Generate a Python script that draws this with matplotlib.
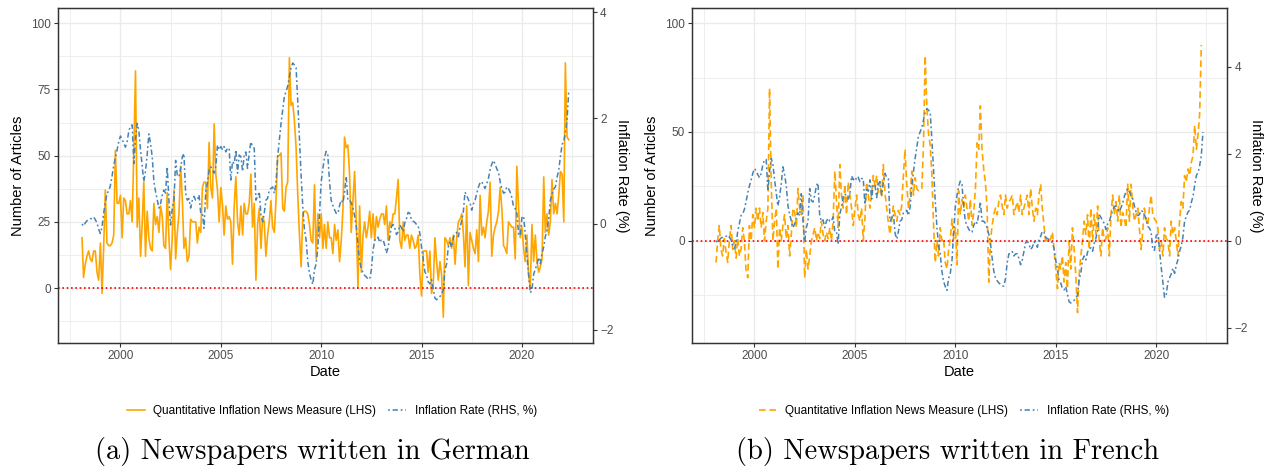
import numpy as np
import pandas as pd
import matplotlib
matplotlib.use("Agg")
import matplotlib.pyplot as plt
from matplotlib.lines import Line2D

plt.rcParams["font.family"] = ["Liberation Sans", "DejaVu Sans"]

# monthly series, Feb 1998 onwards
german_news = [
    19, 4, 9, 12, 14, 11, 10, 14, 14, 6,
    3, 17, -2, 15, 37, 17, 16, 16, 17, 20,
    52, 32, 32, 35, 19, 34, 33, 28, 28, 33,
    25, 52, 82, 23, 34, 12, 25, 40, 12, 29,
    19, 15, 14, 32, 24, 27, 21, 31, 27, 16,
    15, 36, 19, 7, 19, 37, 11, 21, 28, 46,
    33, 15, 19, 10, 12, 26, 25, 25, 25, 17,
    23, 21, 38, 40, 40, 30, 55, 38, 34, 62,
    43, 37, 25, 38, 31, 20, 31, 26, 27, 25,
    9, 31, 42, 25, 20, 31, 20, 32, 28, 28,
    32, 43, 23, 32, 3, 24, 30, 15, 27, 25,
    12, 20, 25, 33, 23, 21, 33, 50, 50, 51,
    30, 29, 38, 40, 87, 69, 70, 63, 53, 35,
    20, 8, 28, 29, 29, 28, 24, 18, 17, 39,
    11, 28, 19, 28, 15, 24, 15, 25, 19, 19,
    13, 24, 18, 22, 10, 18, 30, 57, 53, 54,
    43, 21, 33, 44, 25, 0, 31, 6, 20, 25,
    19, 23, 29, 19, 28, 18, 27, 23, 26, 28,
    28, 24, 31, 18, 25, 23, 28, 28, 34, 41,
    18, 15, 25, 18, 20, 20, 15, 20, 18, 15,
    16, 20, 5, -3, 14, 14, 14, 6, 14, -2,
    1, 19, 10, 3, 10, 5, -11, 19, 18, 16,
    19, 15, 20, 9, 19, 25, 26, 28, 20, 8,
    31, 1, 21, 18, 15, 13, 22, 10, 35, 20,
    23, 19, 25, 29, 40, 12, 20, 23, 25, 29,
    38, 30, 16, 15, 13, 25, 24, 23, 23, 11,
    46, 30, 19, 23, 15, 10, 20, 5, 0, 24,
    10, 20, 10, 6, 8, 11, 42, 21, 28, 20,
    25, 41, 28, 32, 28, 35, 44, 43, 25, 85,
    57, 56,
]

french_news = [
    -10, 0, 7, -4, -7, 1, -5, -10, 0, 7,
    -4, 0, -8, 1, -7, -4, 6, 0, -14, -17,
    7, 0, 12, 6, 15, 9, 15, 6, 13, 0,
    9, 15, 70, 26, 0, 9, 15, -13, 6, 0,
    7, 12, 1, 7, -7, 3, 15, 13, 6, 24,
    15, 12, 21, -17, -4, -13, -7, 0, 3, 6,
    0, 4, 1, 9, 3, 0, 4, 1, 6, 0,
    9, 32, 18, 6, 35, 21, 15, 26, 12, 27,
    21, 15, 7, 15, 21, 12, 9, 15, 0, 10,
    27, 21, 15, 22, 30, 25, 30, 22, 27, 20,
    35, 22, 15, 8, 3, 10, 16, 12, 9, 14,
    12, 16, 30, 42, 26, 15, 21, 32, 21, 29,
    24, 23, 23, 24, 45, 85, 61, 49, 44, 30,
    7, -10, 0, -7, 6, 0, 1, -10, -13, -4,
    1, 10, 1, 6, -11, 23, 12, 19, 15, 21,
    15, 9, 19, 7, 13, 24, 45, 42, 62, 42,
    33, 27, 15, -19, 0, 7, 12, 15, 12, 18,
    21, 16, 12, 21, 15, 18, 19, 21, 12, 15,
    18, 13, 21, 12, 15, 18, 21, 12, 24, 15,
    9, 15, 12, 21, 26, 15, 7, 0, 1, 0,
    1, 4, -4, -13, -22, -10, -13, -7, -19, -10,
    -22, 0, -13, 6, -4, -16, -33, -16, -7, 0,
    9, 3, 12, -4, 15, 0, 12, 3, 16, 0,
    -7, 6, 0, 1, 6, -7, 12, 21, 12, 18,
    9, 21, 6, 13, 10, 6, 26, 9, 26, 16,
    9, 12, 15, 6, -4, 4, 15, 10, 7, 15,
    21, 12, 10, 9, 6, -4, 0, -7, 6, 1,
    0, -7, 9, 3, 6, 0, -7, 9, 18, 15,
    30, 27, 33, 30, 36, 39, 53, 42, 49, 58,
    90,
]

inflation = [
    0.0, -0.04, 0.02, 0.06, 0.08, 0.1, 0.1, 0.13, 0.08, 0.02,
    -0.1, -0.18, -0.05, 0.2, 0.39, 0.58, 0.62, 0.72, 0.9, 1.1,
    1.26, 1.4, 1.55, 1.66, 1.6, 1.52, 1.45, 1.55, 1.75, 1.85,
    1.87, 1.14, 1.6, 1.9, 1.75, 1.4, 1.08, 0.8, 1.0, 1.3,
    1.7, 1.52, 1.27, 0.8, 0.61, 0.45, 0.3, 0.39, 0.55, 0.64,
    0.58, 1.08, 0.45, -0.02, 0.3, 0.45, 1.2, 0.92, 0.89, 1.05,
    1.27, 1.33, 0.58, 0.45, 0.48, 0.3, 0.45, 0.52, 0.45, 0.45,
    0.55, 0.2, 0.2, -0.08, 0.61, 0.77, 1.02, 1.08, 1.02, 0.96,
    1.08, 1.49, 1.4, 1.46, 1.4, 1.46, 1.36, 1.43, 1.43, 0.83,
    1.18, 1.14, 1.4, 0.96, 1.3, 1.27, 0.99, 1.3, 1.36, 1.05,
    1.33, 1.55, 1.46, 1.43, 0.45, 0.52, 0.61, 0.17, 0.04, 0.2,
    0.45, 0.48, 0.64, 0.67, 0.7, 0.58, 0.77, 1.27, 1.58, 1.9,
    2.15, 2.4, 2.5, 2.6, 2.78, 2.95, 3.04, 3.0, 2.95, 2.3,
    1.6, 0.9, 0.3, -0.1, -0.3, -0.7, -0.93, -1.05, -1.14, -0.86,
    -0.75, -0.45, 0.2, 0.8, 1.05, 1.25, 1.37, 1.3, 0.8, 0.45,
    0.35, 0.27, 0.2, 0.2, 0.35, 0.45, 0.4, 0.6, 0.9, 0.45,
    0.45, 0.4, 0.3, 0.15, -0.05, -0.4, -0.7, -0.85, -0.92, -0.97,
    -1.0, -1.04, -1.04, -0.87, -0.5, -0.3, -0.3, -0.25, -0.35, -0.3,
    -0.3, -0.4, -0.55, -0.45, -0.25, -0.05, -0.01, -0.08, -0.2, -0.15,
    -0.02, -0.07, -0.15, 0.02, 0.1, 0.22, 0.2, 0.08, 0.05, 0.03,
    -0.01, -0.04, -0.18, -0.45, -0.67, -0.9, -0.97, -1.09, -1.13, -1.05,
    -1.22, -1.4, -1.43, -1.4, -1.37, -1.32, -1.25, -0.88, -0.75, -0.44,
    -0.35, -0.44, -0.26, -0.19, -0.16, -0.24, -0.06, 0.06, 0.25, 0.6,
    0.54, 0.46, 0.4, 0.26, 0.38, 0.45, 0.57, 0.7, 0.78, 0.8,
    0.72, 0.67, 0.76, 0.86, 1.02, 1.13, 1.2, 1.13, 1.04, 0.97,
    0.8, 0.66, 0.58, 0.6, 0.7, 0.67, 0.6, 0.5, 0.33, 0.29,
    0.2, -0.2, -0.22, 0.12, 0.15, -0.2, -0.6, -0.95, -1.3, -1.25,
    -0.95, -0.85, -0.76, -0.63, -0.75, -0.56, -0.43, -0.24, -0.12, 0.08,
    0.45, 0.56, 0.66, 0.7, 0.88, 1.02, 1.27, 1.5, 1.57, 1.72,
    1.96, 2.5,
]

dates = pd.date_range("1998-02-01", periods=len(inflation), freq="MS")

news_label = "Quantitative Inflation News Measure (LHS)"
infl_label = "Inflation Rate (RHS, %)"
year_ticks = [2000, 2005, 2010, 2015, 2020]

panels = [
    dict(news=german_news, dash=None, lims=(-15, 100), offset=24.2,
         ticks=[0, 25, 50, 75, 100], minor=[-12.5, 12.5, 37.5, 62.5, 87.5],
         rect=[0.0456, 0.2702, 0.4232, 0.7128], legend_x=332,
         caption="(a) Newspapers written in German", caption_x=312),
    dict(news=french_news, dash=(4, 2.2), lims=(-40, 100), offset=0.0,
         ticks=[0, 50, 100], minor=[-25, 25, 75],
         rect=[0.5468, 0.2702, 0.4234, 0.7128], legend_x=964,
         caption="(b) Newspapers written in French", caption_x=947),
]

ORANGE = "#FFA500"
BLUE = "#4682B4"
DOTDASH = (1.2, 1.8, 3.5, 1.8)

fig = plt.figure(figsize=(12.65, 4.7), dpi=100)

span = dates[-1] - dates[0]
xlo, xhi = dates[0] - 0.05 * span, dates[-1] + 0.05 * span

for p in panels:
    ax = fig.add_axes(p["rect"])
    ax2 = ax.twinx()

    lo, hi = p["lims"]
    ylo, yhi = lo - 0.05 * (hi - lo), hi + 0.05 * (hi - lo)
    ax.set_ylim(ylo, yhi)
    ax2.set_ylim((ylo - p["offset"]) / 20, (yhi - p["offset"]) / 20)
    ax.set_xlim(xlo, xhi)

    ax.set_yticks(p["ticks"])
    ax.set_yticks(p["minor"], minor=True)
    ax.set_xticks([pd.Timestamp(f"{y}-01-01") for y in year_ticks])
    ax.set_xticklabels([str(y) for y in year_ticks])
    ax.set_xticks([pd.Timestamp(f"{y - 3}-07-02") for y in year_ticks + [2025]], minor=True)
    ax2.set_yticks([-2, 0, 2, 4])

    ax.grid(which="major", color="#EBEBEB", lw=1.0)
    ax.grid(which="minor", color="#EBEBEB", lw=0.6)
    ax.set_axisbelow(True)

    news = p["news"]
    if p["dash"] is None:
        ax.plot(dates[:len(news)], news, color=ORANGE, lw=1.2)
    else:
        ax.plot(dates[:len(news)], news, color=ORANGE, lw=1.2, dashes=p["dash"])
    ax.axhline(0, color="red", lw=1.2, dashes=(1, 1.6))
    ax2.plot(dates, inflation, color=BLUE, lw=1.1, dashes=DOTDASH)

    for a in (ax, ax2):
        for s in a.spines.values():
            s.set_color("#333333")
            s.set_linewidth(0.9)
        a.tick_params(which="major", length=3, width=0.8, color="#333333",
                      labelcolor="#4D4D4D", labelsize=8.5, pad=2)
        a.tick_params(which="minor", length=0)

    ax.set_ylabel("Number of Articles", fontsize=10.5, labelpad=4)
    ax2.set_ylabel("Inflation Rate (%)", fontsize=10.5, rotation=270, labelpad=11)
    ax.set_xlabel("Date", fontsize=10.5, labelpad=2)

    handles = [
        Line2D([], [], color=ORANGE, lw=1.2, dashes=p["dash"] if p["dash"] else (None, None)),
        Line2D([], [], color=BLUE, lw=1.1, dashes=DOTDASH),
    ]
    fig.legend(handles, [news_label, infl_label], loc="center",
               bbox_to_anchor=(p["legend_x"] / 1265, 1 - 411 / 470), ncol=2,
               frameon=False, fontsize=8.5, handlelength=1.5, handletextpad=0.75,
               columnspacing=1.0)

    fig.text(p["caption_x"] / 1265, 1 - 452 / 470, p["caption"], ha="center",
             va="center", fontsize=20.5, family="cmr10")

fig.savefig("out.png", dpi=100, facecolor="white")
